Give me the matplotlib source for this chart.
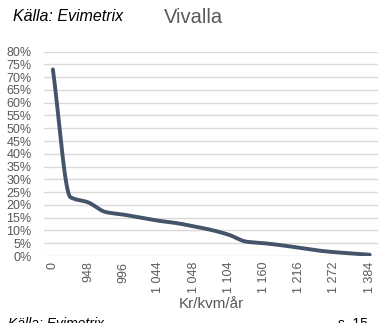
"""
Hyresnivå Vivalla - andel lokaler per hyresnivå (kr/kvm/år)
"""

import numpy as np
import matplotlib.pyplot as plt

# ---------------------------------------------------------------------------
# Data
# ---------------------------------------------------------------------------

rents = [0, 920, 948, 972, 996, 1020, 1044, 1046, 1048, 1080,
         1104, 1132, 1160, 1188, 1216, 1244, 1272, 1330, 1384]
shares = [73.0, 23.0, 21.0, 17.2, 16.2, 15.0, 13.8, 12.9, 11.6, 10.2,
          8.3, 5.6, 5.0, 4.2, 3.2, 2.2, 1.5, 1.0, 0.5]
yticks = list(range(0, 81, 5))

LINE_COLOR = "#44546a"
TEXT_COLOR = "#595959"
GRID_COLOR = "#d9d9d9"

plt.rcParams["font.family"] = ["Liberation Sans", "DejaVu Sans"]


def fmt_rent(v):
    # Swedish thousands separator (space)
    return f"{v:,}".replace(",", " ")


def smooth(xs, ys, steps=30):
    """Monotone cubic curve through the points (no overshoot at the knee)."""
    xs = np.asarray(xs, float)
    ys = np.asarray(ys, float)
    h = np.diff(xs)
    d = np.diff(ys) / h
    m = np.zeros_like(ys)
    m[0], m[-1] = d[0], d[-1]
    for i in range(1, len(ys) - 1):
        if d[i - 1] * d[i] <= 0:
            m[i] = 0.0
        else:
            w1 = 2 * h[i] + h[i - 1]
            w2 = h[i] + 2 * h[i - 1]
            m[i] = (w1 + w2) / (w1 / d[i - 1] + w2 / d[i])
    out_x, out_y = [], []
    t = np.linspace(0, 1, steps, endpoint=False)
    for i in range(len(xs) - 1):
        h00 = 2 * t ** 3 - 3 * t ** 2 + 1
        h10 = t ** 3 - 2 * t ** 2 + t
        h01 = -2 * t ** 3 + 3 * t ** 2
        h11 = t ** 3 - t ** 2
        out_x.extend(xs[i] + t * h[i])
        out_y.extend(h00 * ys[i] + h10 * h[i] * m[i]
                     + h01 * ys[i + 1] + h11 * h[i] * m[i + 1])
    out_x.append(xs[-1])
    out_y.append(ys[-1])
    return np.array(out_x), np.array(out_y)


def main():
    fig = plt.figure(figsize=(3.8, 3.23), dpi=100)
    ax = fig.add_axes([0.116, 0.2074, 0.88, 0.633])

    idx = np.arange(len(rents))
    sx, sy = smooth(idx, shares)
    ax.plot(sx, sy, color=LINE_COLOR, lw=2.8, solid_capstyle="round",
            solid_joinstyle="round", zorder=3)

    ax.set_xlim(-0.5, len(rents) - 0.5)
    ax.set_ylim(0, 80)
    ax.set_yticks(yticks)
    ax.set_yticklabels([f"{v}%" for v in yticks])
    ax.set_xticks(idx[::2])
    ax.set_xticklabels([fmt_rent(r) for r in rents[::2]], rotation=90,
                       va="top", ha="center")

    ax.grid(axis="y", color=GRID_COLOR, lw=1.0)
    ax.set_axisbelow(True)
    for s in ax.spines.values():
        s.set_visible(False)
    ax.tick_params(length=0, labelsize=9, colors=TEXT_COLOR)
    ax.tick_params(axis="y", pad=9)
    ax.tick_params(axis="x", pad=4)

    ax.set_xlabel("Kr/kvm/år", fontsize=11, color=TEXT_COLOR, labelpad=3)

    fig.text(0.035, 0.95, "Källa: Evimetrix", fontsize=11.5, style="italic",
             color="black", va="center")
    fig.text(0.51, 0.945, "Vivalla", fontsize=14.5, color=TEXT_COLOR,
             ha="center", va="center")

    # footer line, cut off at the lower edge
    fig.text(0.02, -0.004, "Källa: Evimetrix", fontsize=10, style="italic",
             color="black", va="center")
    fig.text(0.89, -0.004, "s. 15", fontsize=10, color="black", va="center")

    fig.savefig("out.png", dpi=100)


if __name__ == "__main__":
    main()
